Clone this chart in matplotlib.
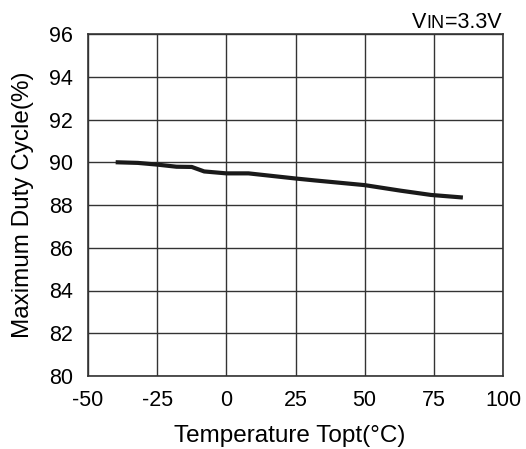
import matplotlib.pyplot as plt

plt.rcParams['font.family'] = ['Liberation Sans', 'DejaVu Sans']
plt.rcParams['axes.unicode_minus'] = False

# Maximum duty cycle vs temperature, VIN = 3.3V
temp = [-40, -32, -25, -18, -12.5, -8, 0, 8, 25, 32, 50, 63, 74, 85.5]
duty = [90.0, 89.97, 89.89, 89.79, 89.78, 89.57, 89.48, 89.48, 89.24, 89.15, 88.93, 88.67, 88.47, 88.35]

x_ticks = [-50, -25, 0, 25, 50, 75, 100]
y_ticks = [80, 82, 84, 86, 88, 90, 92, 94, 96]

fig = plt.figure(figsize=(5.26, 4.49), dpi=100)
ax = fig.add_axes([88 / 526, 1 - 376 / 449, 415 / 526, 342 / 449])

ax.plot(temp, duty, color='#1a1a1a', linewidth=3.0, solid_capstyle='butt')

ax.set_xlim(-50, 100)
ax.set_ylim(80, 96)
ax.set_xticks(x_ticks)
ax.set_yticks(y_ticks)
ax.tick_params(labelsize=15.5, length=0, colors='black')
ax.tick_params(axis='y', pad=11)
ax.tick_params(axis='x', pad=10)
ax.grid(True, color='#333333', linewidth=1.0)
for s in ax.spines.values():
    s.set_color('#333333')
    s.set_linewidth(1.2)

ax.set_xlabel('Temperature Topt(°C)', fontsize=17.5)
ax.xaxis.set_label_coords(0.487, -0.143)
ax.set_ylabel('Maximum Duty Cycle(%)', fontsize=17.5, labelpad=10.5)

# VIN=3.3V label with small "IN", pieces chained left to right on one baseline
base_y = 1 - 28.5 / 449
v = fig.text(412 / 526, base_y, 'V', fontsize=15.5, va='baseline', ha='left')
sub = ax.annotate('IN', xy=(1, base_y), xycoords=(v, 'figure fraction'),
                  fontsize=13, va='baseline', ha='left')
ax.annotate('=3.3V', xy=(1, base_y), xycoords=(sub, 'figure fraction'),
            fontsize=15.5, va='baseline', ha='left')

fig.savefig('out.png', dpi=100)
